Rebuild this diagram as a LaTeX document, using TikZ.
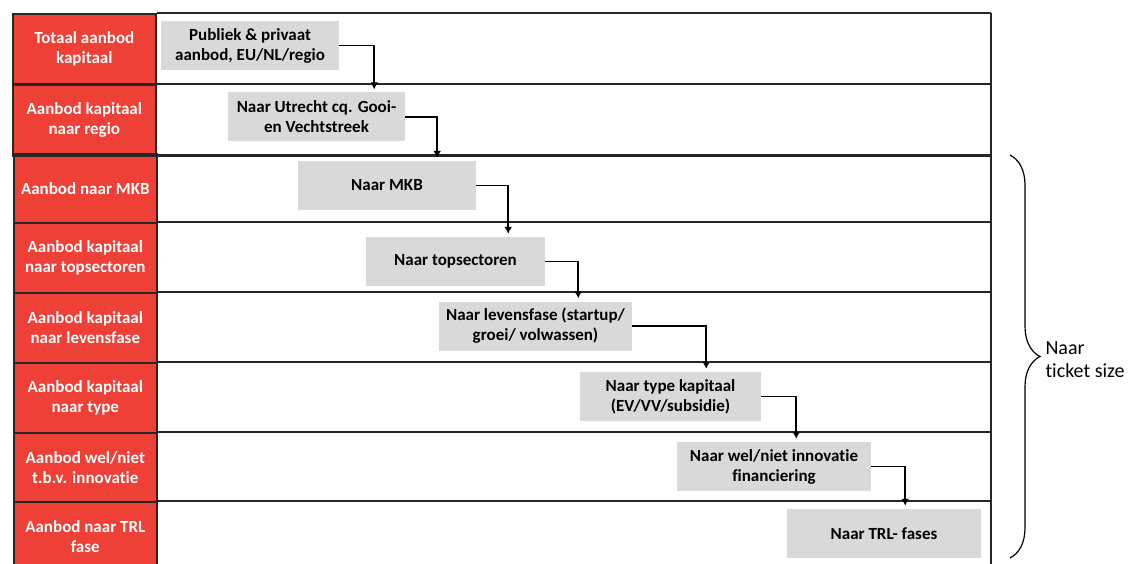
\documentclass[tikz,border=0pt]{standalone}
\usepackage{fontspec}
\setmainfont[Ligatures=NoCommon]{Carlito}
\usetikzlibrary{calc,arrows.meta,decorations.pathreplacing}

\definecolor{cellred}{HTML}{EE4036}
\definecolor{boxgray}{HTML}{D9D9D9}
\definecolor{gridline}{HTML}{262626}

\tikzset{
  rowlabel/.style={draw=gridline,line width=1.6pt,fill=cellred,text=white,
    font=\fontsize{17}{20}\selectfont\bfseries,align=center,
    minimum width=143pt,minimum height=70pt,inner sep=0pt,anchor=north west},
  stepbox/.style={fill=boxgray,font=\fontsize{17}{20}\selectfont\bfseries,
    align=center,minimum height=49pt,inner sep=0pt},
  rowline/.style={draw=gridline,line width=1.8pt},
  flow/.style={-{Latex[length=7pt,width=8pt]},line width=1.8pt,shorten >=3pt},
}

\begin{document}
\begin{tikzpicture}[x=1pt,y=-1pt]
  \useasboundingbox (0,0) rectangle (1129,564);
  \clip (0,0) rectangle (1129,564);
  \coordinate (R) at (991,0);
  \coordinate (B) at (0,564);

  \node[rowlabel] (r1) at (12,13) {Totaal aanbod\\kapitaal};
  \node[rowlabel] (r2) at (12,84) {Aanbod kapitaal\\naar regio};
  \node[rowlabel] (r3) at (13,153) {Aanbod naar MKB};
  \node[rowlabel] (r4) at (13,222) {Aanbod kapitaal\\naar topsectoren};
  \node[rowlabel] (r5) at (13,292) {Aanbod kapitaal\\naar levensfase};
  \node[rowlabel] (r6) at (13,362) {Aanbod kapitaal\\naar type};
  \node[rowlabel] (r7) at (13,432) {Aanbod wel/niet\\t.b.v. innovatie};
  \node[rowlabel] (r8) at (13,501) {Aanbod naar TRL\\fase};

  \draw[rowline] (r1.north east) -- (r1.north east -| R);
  \draw[rowline] (r2.north east) -- (r2.north east -| R);
  \draw[rowline,line width=2.6pt] (r2.south west) -- (r2.south west -| R);
  \draw[rowline] (r4.north east) -- (r4.north east -| R);
  \draw[rowline] (r5.north east) -- (r5.north east -| R);
  \draw[rowline] (r6.north east) -- (r6.north east -| R);
  \draw[rowline] (r7.north east) -- (r7.north east -| R);
  \draw[rowline] (r8.north east) -- (r8.north east -| R);
  \draw[rowline] (r1.north east -| R) -- (R |- B);

  \node[stepbox,minimum width=178pt] (s1) at (250,45.5) {Publiek \& privaat\\aanbod, EU/NL/regio};
  \node[stepbox,minimum width=177pt] (s2) at (316.5,117) {Naar Utrecht cq. Gooi-\\en Vechtstreek};
  \node[stepbox,minimum width=178pt] (s3) at (387,185.5) {Naar MKB};
  \node[stepbox,minimum width=179pt] (s4) at (455.5,261.5) {Naar topsectoren};
  \node[stepbox,minimum width=193pt] (s5) at (535.5,326) {Naar levensfase (startup/\\groei/ volwassen)};
  \node[stepbox,minimum width=181pt] (s6) at (670.5,396.5) {Naar type kapitaal\\(EV/VV/subsidie)};
  \node[stepbox,minimum width=194pt] (s7) at (774,466.5) {Naar wel/niet innovatie\\financiering};
  \node[stepbox,minimum width=194pt] (s8) at (884,533.5) {Naar TRL- fases};

  \draw[flow] (s1.east) -| ($(s1.east |- s2.north)+(35,0)$);
  \draw[flow] (s2.east) -| ($(s2.east |- s3.north)+(32,0)$);
  \draw[flow] (s3.east) -| ($(s3.east |- s4.north)+(32,0)$);
  \draw[flow] (s4.east) -| ($(s4.east |- s5.north)+(33,0)$);
  \draw[flow] (s5.east) -| ($(s5.east |- s6.north)+(74,0)$);
  \draw[flow] (s6.east) -| ($(s6.east |- s7.north)+(35,0)$);
  \draw[flow] (s7.east) -| ($(s7.east |- s8.north)+(34,0)$);

  \draw[decorate,decoration={brace,amplitude=30pt},line width=1.2pt] (1010,155) -- (1010,558);
  \node[anchor=west,align=left,font=\fontsize{20}{23}\selectfont] (ticket) at (1042,360) {Naar\\ticket size};
\end{tikzpicture}
\end{document}
